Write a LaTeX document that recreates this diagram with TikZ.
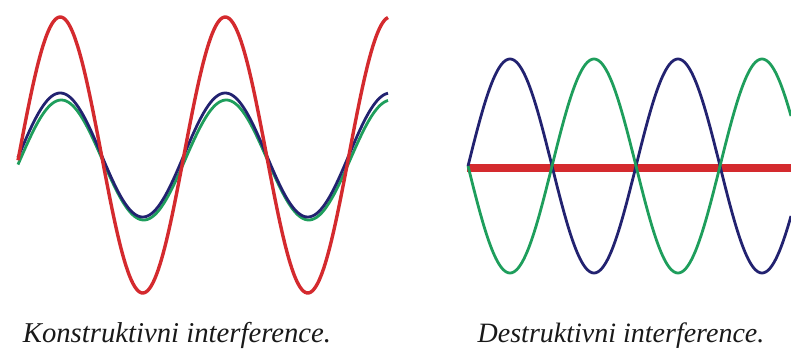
\documentclass[tikz,border=0pt]{standalone}
\usepackage{fontspec}
\setmainfont{Liberation Serif}
\usetikzlibrary{positioning}

\definecolor{wavered}{RGB}{212,42,46}
\definecolor{waveblue}{RGB}{34,34,112}
\definecolor{wavegreen}{RGB}{30,158,92}

\begin{document}
\begin{tikzpicture}[
    x=1pt, y=-1pt,
    redwave/.style={
        draw=wavered,
        line width=3.4pt,
        line join=round
    },
    redbar/.style={
        draw=wavered,
        line width=8pt
    },
    bluewave/.style={
        draw=waveblue,
        line width=2.8pt,
        line join=round
    },
    greenwave/.style={
        draw=wavegreen,
        line width=2.8pt,
        line join=round
    },
    caption/.style={
        anchor=base,
        inner sep=0pt,
        font=\fontsize{28}{32}\selectfont\itshape,
        text=black!90
    }
]

\useasboundingbox (0,0) rectangle (791,351);

% constructive
\draw[greenwave] plot[domain=18:388, samples=220]
    (\x, {160 - 60*sin((\x-20)*2.18182)});
\draw[bluewave] plot[domain=18:388, samples=220]
    (\x, {155 - 62*sin((\x-19)*2.18182)});
\draw[redwave] plot[domain=18:388, samples=220]
    (\x, {155 - 138*sin((\x-19)*2.18182)});

% destructive
\draw[redbar] (467,168) -- (791,168);
\draw[bluewave] plot[domain=468:791, samples=220]
    (\x, {166 - 107*sin((\x-468)*2.142857)});
\draw[greenwave] plot[domain=468:791, samples=220]
    (\x, {166 + 107*sin((\x-468)*2.142857)});

\node[caption, font=\fontsize{28.7}{32}\selectfont\itshape] (konstr) at (177,342)
    {Konstruktivni interference.};
\node[caption] (destr) at (621,342)
    {Destruktivni interference.};

\end{tikzpicture}
\end{document}
